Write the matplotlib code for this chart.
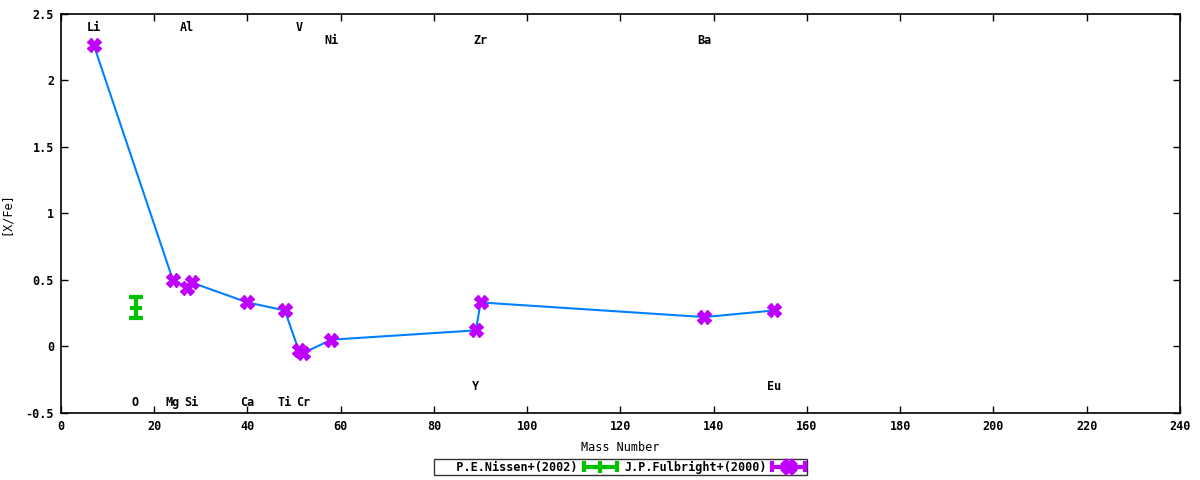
import matplotlib
matplotlib.use('Agg')
import matplotlib.pyplot as plt
from matplotlib.lines import Line2D
from matplotlib.legend_handler import HandlerBase

plt.rcParams['font.family'] = 'DejaVu Sans Mono'
plt.rcParams['font.weight'] = 'bold'
plt.rcParams['font.size'] = 8.5

# Nissen (2002): oxygen
nis_mass = [16]
nis_val = [0.29]
nis_err = [0.08]

# Fulbright (2000)
ful_mass = [7, 24, 27, 28, 40, 48, 51, 52, 58, 89, 90, 138, 153]
ful_val = [2.27, 0.50, 0.44, 0.48, 0.33, 0.27, -0.03, -0.05, 0.05, 0.12, 0.33, 0.22, 0.27]

# element labels
top_names = ['Li', 'Al', 'V', 'Ni', 'Zr', 'Ba']
top_x = [7, 27, 51, 58, 90, 138]
top_y = [2.4, 2.4, 2.4, 2.3, 2.3, 2.3]
bot_names = ['O', 'Mg', 'Si', 'Ca', 'Ti', 'Cr', 'Y', 'Eu']
bot_x = [16, 24, 28, 40, 48, 52, 89, 153]
bot_y = [-0.42, -0.42, -0.42, -0.42, -0.42, -0.42, -0.3, -0.3]

green = '#00c000'
purple = '#c000ff'
blue = '#0080ff'


# gnuplot-like key sample: bar with end caps and point in the middle
class CapHandler(HandlerBase):
    def create_artists(self, legend, orig, xd, yd, w, h, fs, trans):
        c = orig.get_color()
        m = orig.get_marker()
        y = yd + h / 2
        out = [Line2D([xd, xd + w], [y, y], color=c, lw=3),
               Line2D([xd, xd], [y - h * 0.4, y + h * 0.4], color=c, lw=3),
               Line2D([xd + w, xd + w], [y - h * 0.4, y + h * 0.4], color=c, lw=3),
               Line2D([xd + w / 2], [y], color=c, marker=m, ms=8, mew=3, ls='none')]
        for a in out:
            a.set_transform(trans)
        return out


fig = plt.figure(figsize=(12, 4.8), dpi=100)
ax = fig.add_axes([0.0508, 0.140, 0.9325, 0.831])

ax.plot(ful_mass, ful_val, color=blue, lw=1.5, zorder=2)
ax.errorbar(nis_mass, nis_val, yerr=nis_err, fmt='+', color=green, ms=9, mew=3,
            elinewidth=3, capsize=5, capthick=3, zorder=3)
ax.plot(ful_mass, ful_val, 'X', color=purple, ms=10, mec=purple, zorder=4)

for n, x, y in zip(top_names, top_x, top_y):
    ax.text(x, y, n, ha='center', va='center')
for n, x, y in zip(bot_names, bot_x, bot_y):
    ax.text(x, y, n, ha='center', va='center')

ax.set_xlim(0, 240)
ax.set_ylim(-0.5, 2.5)
ax.set_xticks(range(0, 241, 20))
ax.set_yticks([-0.5, 0, 0.5, 1, 1.5, 2, 2.5])
ax.set_yticklabels(['-0.5', '0', '0.5', '1', '1.5', '2', '2.5'])
ax.tick_params(direction='in', top=True, right=True, length=5, width=1, pad=5)
for s in ax.spines.values():
    s.set_linewidth(1.2)
ax.set_xlabel('Mass Number')
ax.xaxis.set_label_coords(0.5, -0.07)
ax.set_ylabel('[X/Fe]')
ax.yaxis.set_label_coords(-0.043, 0.5)

h1 = Line2D([], [], color=green, marker='+')
h2 = Line2D([], [], color=purple, marker='X')
leg = ax.legend([h1, h2], ['   P.E.Nissen+(2002)', 'J.P.Fulbright+(2000)'],
                loc='upper center', bbox_to_anchor=(0.5, -0.102), ncol=2,
                frameon=True, fancybox=False, edgecolor='black',
                markerfirst=False, handlelength=2.8, columnspacing=0.6,
                borderpad=0.1, handletextpad=0.5, handler_map={Line2D: CapHandler()})
leg.get_frame().set_linewidth(1)

fig.savefig('out.png', dpi=100)
